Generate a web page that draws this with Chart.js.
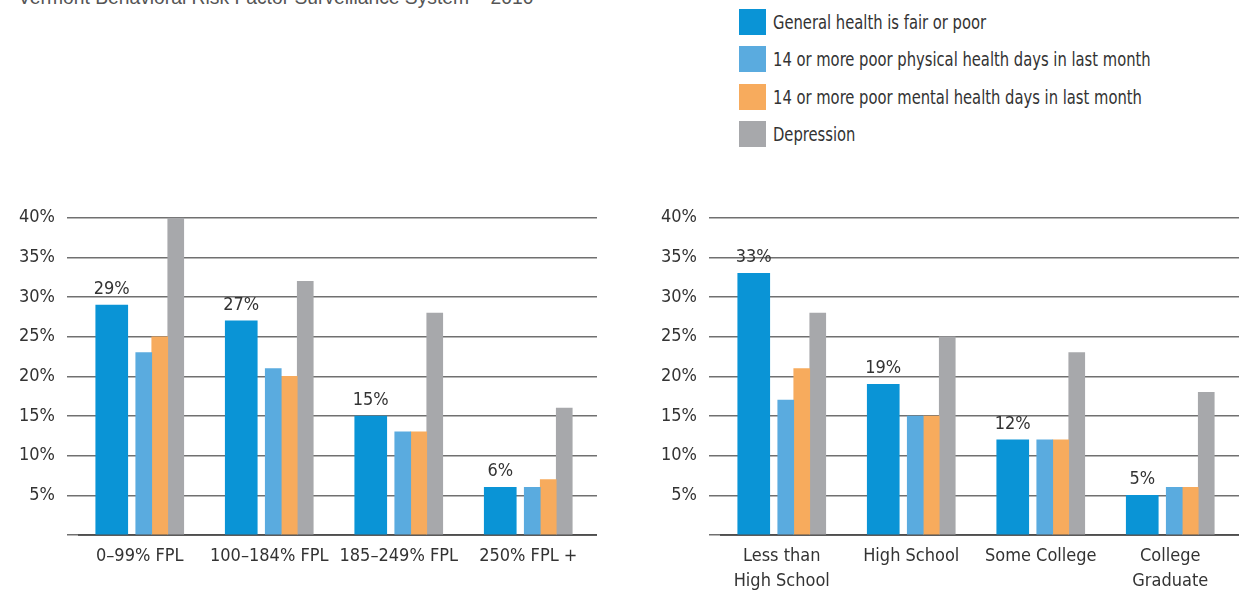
<!doctype html>
<html>

<head>
	<title>Health status by income and education</title>
	<script src="https://cdn.jsdelivr.net/npm/chart.js@4.4.1/dist/chart.umd.min.js"></script>
	<style>
	body {
		margin: 0;
		width: 1239px;
		height: 592px;
		position: relative;
		overflow: hidden;
		background: #fff;
		color: #333;
		font-family: 'Liberation Sans Narrow', 'DejaVu Sans Condensed', sans-serif;
	}
	#title {
		position: absolute;
		left: 18px;
		top: -12px;
		font: 19.3px 'Liberation Sans', sans-serif;
		line-height: 20px;
		color: #555;
		white-space: nowrap;
	}
	#legend {
		position: absolute;
		left: 739px;
		top: 9px;
	}
	.item {
		display: flex;
		align-items: center;
		height: 26px;
		margin-bottom: 11.3px;
		font-size: 20px;
		white-space: nowrap;
	}
	.item span {
		display: inline-block;
		transform: scaleX(0.82);
		transform-origin: left center;
	}
	.swatch {
		width: 27px;
		height: 26px;
		margin-right: 7px;
	}
	.box {
		position: absolute;
		top: 195px;
		width: 597px;
		height: 397px;
	}
	canvas{
		-moz-user-select: none;
		-webkit-user-select: none;
		-ms-user-select: none;
	}
	</style>
</head>

<body>
	<div id="title">Vermont Behavioral Risk Factor Surveillance System – 2010</div>
	<div id="legend"></div>
	<div class="box" style="left:0"><canvas id="fpl-canvas"></canvas></div>
	<div class="box" style="left:642px"><canvas id="edu-canvas"></canvas></div>
	<script>
		var seriesNames = [
			'General health is fair or poor',
			'14 or more poor physical health days in last month',
			'14 or more poor mental health days in last month',
			'Depression'
		];
		var seriesColors = ['#0a94d6', '#5aabdf', '#f7ab5d', '#a7a8ab'];

		// income groups (percent of federal poverty level)
		var fplLabels = ['0–99% FPL', '100–184% FPL', '185–249% FPL', '250% FPL +'];
		var fplGeneral = [29, 27, 15, 6];
		var fplPhysical = [23, 21, 13, 6];
		var fplMental = [25, 20, 13, 7];
		var fplDepression = [40, 32, 28, 16];

		// education groups
		var eduLabels = [['Less than', 'High School'], 'High School', 'Some College', ['College', 'Graduate']];
		var eduGeneral = [33, 19, 12, 5];
		var eduPhysical = [17, 15, 12, 6];
		var eduMental = [21, 15, 12, 6];
		var eduDepression = [28, 25, 23, 18];

		var yMax = 40;
		var yStep = 5;

		var fontFamily = "'Liberation Sans Narrow', 'DejaVu Sans Condensed', sans-serif";
		var fontSize = 18;
		var textColor = '#333';

		// legend
		var legend = document.getElementById('legend');
		seriesNames.forEach(function(name, i) {
			var row = document.createElement('div');
			row.className = 'item';
			row.innerHTML = '<div class="swatch" style="background:' + seriesColors[i] + '"></div><span>' + name + '</span>';
			legend.appendChild(row);
		});

		// writes the value above each "general health" bar
		var valueLabels = {
			id: 'valueLabels',
			afterDatasetsDraw: function(chart) {
				var ctx = chart.ctx;
				var meta = chart.getDatasetMeta(1);
				var values = chart.data.datasets[1].data;
				ctx.save();
				ctx.font = fontSize + 'px ' + fontFamily;
				ctx.fillStyle = textColor;
				ctx.textAlign = 'center';
				ctx.textBaseline = 'alphabetic';
				meta.data.forEach(function(bar, i) {
					ctx.fillText(values[i] + '%', bar.x, bar.y - 11);
				});
				ctx.restore();
			}
		};

		function makeConfig(labels, general, physical, mental, depression) {
			var series = [general, physical, mental, depression];
			// first dataset is an empty spacer so the wide blue bar sits apart from the others
			var datasets = [{ label: '', data: labels.map(function() { return null; }), barThickness: 16 }];
			series.forEach(function(values, i) {
				datasets.push({
					label: seriesNames[i],
					data: values,
					backgroundColor: seriesColors[i],
					barThickness: i === 0 ? 32 : 16
				});
			});
			return {
				type: 'bar',
				data: { labels: labels, datasets: datasets },
				options: {
					responsive: true,
					maintainAspectRatio: false,
					animation: false,
					layout: { padding: { top: 18, left: 0, right: 0, bottom: 0 } },
					plugins: {
						legend: { display: false },
						tooltip: { enabled: false }
					},
					scales: {
						x: {
							z: 1,
							grid: { display: false, drawTicks: false },
							border: { display: true, color: 'rgba(70,70,70,0.8)', width: 2 },
							ticks: {
								color: textColor,
								font: { family: fontFamily, size: fontSize, lineHeight: 1.39 },
								padding: 9,
								labelOffset: -4,
								maxRotation: 0,
								autoSkip: false
							},
							afterFit: function(scale) { scale.height = 57; }
						},
						y: {
							min: 0,
							max: yMax,
							grid: { color: '#707070', lineWidth: 1.5, tickLength: 12, drawTicks: true },
							border: { display: false },
							ticks: {
								stepSize: yStep,
								color: textColor,
								padding: 12,
								font: { family: fontFamily, size: fontSize },
								callback: function(v) { return v === 0 ? '' : v + '%'; }
							},
							afterFit: function(scale) { scale.width = 79; }
						}
					}
				},
				plugins: [valueLabels]
			};
		}

		window.onload = function() {
			new Chart(document.getElementById('fpl-canvas').getContext('2d'),
				makeConfig(fplLabels, fplGeneral, fplPhysical, fplMental, fplDepression));
			new Chart(document.getElementById('edu-canvas').getContext('2d'),
				makeConfig(eduLabels, eduGeneral, eduPhysical, eduMental, eduDepression));
		};
	</script>
</body>

</html>
